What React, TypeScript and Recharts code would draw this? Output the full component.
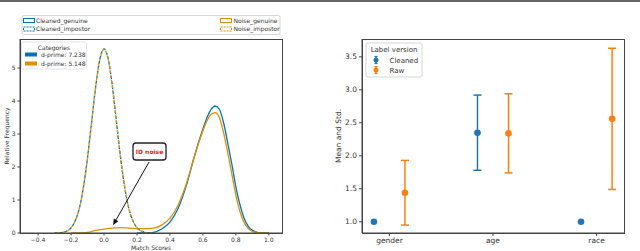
import React from 'react';
import {
  LineChart, Line, XAxis, YAxis, ReferenceLine, ReferenceDot,
  ComposedChart, Scatter, ErrorBar,
} from 'recharts';

const FONT = '"DejaVu Sans", sans-serif';
const BLUE_L = '#0173b2';
const ORANGE_L = '#de8f05';
const BLUE_R = '#1f77b4';
const ORANGE_R = '#ff7f0e';
const AXIS = '#444444';

// ---------- Left panel: score distributions ----------
const impostorScores = [-0.3, -0.275, -0.25, -0.225, -0.2, -0.175, -0.15, -0.125, -0.1, -0.075, -0.05, -0.025, 0, 0.025, 0.05, 0.075, 0.1, 0.125, 0.15, 0.175, 0.2, 0.225, 0.25, 0.275, 0.3];
const cleanedImpostor = [0, 0, 0.02, 0.06, 0.16, 0.37, 0.75, 1.39, 2.29, 3.38, 4.46, 5.27, 5.58, 5.28, 4.47, 3.39, 2.3, 1.4, 0.76, 0.37, 0.16, 0.06, 0.02, 0, 0];
const noiseImpostor = [0, 0, 0.02, 0.06, 0.16, 0.37, 0.75, 1.39, 2.29, 3.38, 4.46, 5.27, 5.57, 5.27, 4.46, 3.38, 2.29, 1.39, 0.75, 0.37, 0.16, 0.06, 0.02, 0, 0];

const cleanedGenuineScores = [0.2, 0.25, 0.3, 0.35, 0.4, 0.45, 0.5, 0.55, 0.6, 0.625, 0.65, 0.675, 0.7, 0.725, 0.75, 0.775, 0.8, 0.825, 0.85, 0.875, 0.9, 0.925, 0.95, 1.0];
const cleanedGenuine = [0, 0, 0.02, 0.12, 0.33, 0.75, 1.45, 2.35, 3.15, 3.5, 3.75, 3.85, 3.75, 3.35, 2.75, 2.1, 1.4, 0.85, 0.45, 0.2, 0.08, 0.03, 0.01, 0];

const noiseGenuineScores = [-0.2, -0.15, -0.1, -0.05, 0, 0.05, 0.1, 0.15, 0.2, 0.25, 0.3, 0.35, 0.4, 0.45, 0.5, 0.55, 0.6, 0.625, 0.65, 0.675, 0.7, 0.725, 0.75, 0.775, 0.8, 0.825, 0.85, 0.875, 0.9, 0.925, 0.95, 1.0];
const noiseGenuine = [0, 0, 0.02, 0.08, 0.12, 0.15, 0.16, 0.15, 0.13, 0.13, 0.15, 0.24, 0.45, 0.85, 1.5, 2.35, 3.1, 3.4, 3.6, 3.65, 3.5, 3.05, 2.45, 1.8, 1.15, 0.65, 0.32, 0.14, 0.05, 0.02, 0.01, 0];

const scoreTicks = [-0.4, -0.2, 0.0, 0.2, 0.4, 0.6, 0.8, 1.0];
const freqTicks = [0, 1, 2, 3, 4, 5];
const dPrimeLabels = ['d-prime: 7.238', 'd-prime: 5.148'];
const annotationText = 'ID noise';
const annotationBox = { x: 0.276, y: 2.47 };
const annotationArrow = [{ x: 0.273, y: 2.15 }, { x: 0.055, y: 0.24 }];
const scoreDomain: [number, number] = [-0.51, 1.08];
const freqDomain: [number, number] = [0, 5.88];

// ---------- Right panel: mean and std ----------
const attributes = ['gender', 'age', 'race'];
const cleanedMean = [1.0, 2.35, 1.0];
const cleanedStd = [0, 0.57, 0];
const rawMean = [1.44, 2.34, 2.56];
const rawStd = [0.49, 0.6, 1.07];
const meanTicks = [1.0, 1.5, 2.0, 2.5, 3.0, 3.5];
const catDomain: [number, number] = [-0.265, 2.265];
const meanDomain: [number, number] = [0.83, 3.77];
const DODGE = 0.15;

const toPts = (xs: number[], ys: number[]) => xs.map((x, i) => ({ x, y: ys[i] }));
const cleanedRows = attributes.map((a, i) => ({ x: i - DODGE, y: cleanedMean[i], std: cleanedStd[i] }));
const rawRows = attributes.map((a, i) => ({ x: i + DODGE, y: rawMean[i], std: rawStd[i] }));

const fmtScore = (v: number) => (v < 0 ? '\u2212' + Math.abs(v).toFixed(1) : v.toFixed(1));

const ArrowShape = (p: any) => {
  const { x1, y1, x2, y2 } = p;
  if ([x1, y1, x2, y2].some((v) => v == null || isNaN(v))) return null;
  const ang = Math.atan2(y2 - y1, x2 - x1);
  const L = 6, W = 2.6;
  const bx = x2 - L * Math.cos(ang), by = y2 - L * Math.sin(ang);
  const px = -Math.sin(ang) * W, py = Math.cos(ang) * W;
  return (
    <g>
      <line x1={x1} y1={y1} x2={bx} y2={by} stroke="#111" strokeWidth={1} />
      <polygon points={`${x2},${y2} ${bx + px},${by + py} ${bx - px},${by - py}`} fill="#111" />
    </g>
  );
};

const BoxShape = (p: any) => {
  const { cx, cy } = p;
  if (cx == null || cy == null) return null;
  return (
    <g>
      <rect x={cx - 16.5} y={cy - 8.5} width={33} height={17} rx={3} fill="#fff" stroke="#222" strokeWidth={1.3} />
      <text x={cx} y={cy + 2} textAnchor="middle" fontSize={6} fontWeight="bold" fill="#e8251f" fontFamily={FONT}>{annotationText}</text>
    </g>
  );
};

const LeftChart = () => (
  <LineChart width={290} height={251} margin={{ top: 39, right: 8, bottom: 0, left: 6 }}>
    <XAxis dataKey="x" type="number" domain={scoreDomain} allowDataOverflow ticks={scoreTicks}
      tickFormatter={fmtScore} height={18} tickSize={2.5} stroke={AXIS}
      tick={{ fontSize: 6, fill: '#333', fontFamily: FONT }} />
    <YAxis type="number" domain={freqDomain} allowDataOverflow ticks={freqTicks} width={14} tickSize={2.5}
      stroke={AXIS} tick={{ fontSize: 6, fill: '#333', fontFamily: FONT }} />
    <Line data={toPts(cleanedGenuineScores, cleanedGenuine)} dataKey="y" type="monotone" stroke={BLUE_L} strokeWidth={1.3} dot={false} isAnimationActive={false} />
    <Line data={toPts(noiseGenuineScores, noiseGenuine)} dataKey="y" type="monotone" stroke={ORANGE_L} strokeWidth={1.3} dot={false} isAnimationActive={false} />
    <Line data={toPts(impostorScores, cleanedImpostor)} dataKey="y" type="monotone" stroke={BLUE_L} strokeWidth={1.3} strokeDasharray="3 2" dot={false} isAnimationActive={false} />
    <Line data={toPts(impostorScores, noiseImpostor)} dataKey="y" type="monotone" stroke={ORANGE_L} strokeWidth={1.3} strokeDasharray="3 2" strokeDashoffset={2} dot={false} isAnimationActive={false} />
    <ReferenceLine segment={annotationArrow} shape={ArrowShape} ifOverflow="visible" />
    <ReferenceDot x={annotationBox.x} y={annotationBox.y} r={0} shape={BoxShape} ifOverflow="visible" />
  </LineChart>
);

const DotShape = (color: string) => (p: any) => (
  p.cx == null ? null : <circle cx={p.cx} cy={p.cy} r={3.3} fill={color} />
);

const RightChart = () => (
  <ComposedChart width={350} height={251} margin={{ top: 39, right: 16, bottom: 0, left: 42 }}>
    <XAxis dataKey="x" type="number" domain={catDomain} allowDataOverflow ticks={[0, 1, 2]}
      tickFormatter={(v: number) => attributes[Math.round(v)] ?? ''} height={18} tickSize={3} stroke={AXIS}
      tick={{ fontSize: 7.5, fill: '#333', fontFamily: FONT }} interval={0} />
    <YAxis type="number" domain={meanDomain} allowDataOverflow ticks={meanTicks} width={30} tickSize={3}
      tickFormatter={(v: number) => v.toFixed(1)} stroke={AXIS}
      tick={{ fontSize: 7.5, fill: '#333', fontFamily: FONT }} />
    <Scatter data={cleanedRows} dataKey="y" fill={BLUE_R} shape={DotShape(BLUE_R)} isAnimationActive={false}>
      <ErrorBar dataKey="std" direction="y" width={4} stroke={BLUE_R} strokeWidth={1.5} isAnimationActive={false} />
    </Scatter>
    <Scatter data={rawRows} dataKey="y" fill={ORANGE_R} shape={DotShape(ORANGE_R)} isAnimationActive={false}>
      <ErrorBar dataKey="std" direction="y" width={4} stroke={ORANGE_R} strokeWidth={1.5} isAnimationActive={false} />
    </Scatter>
  </ComposedChart>
);

const frameStyle = (left: number): React.CSSProperties => ({
  position: 'absolute', left, top: 39, width: 263, height: 195,
  boxSizing: 'border-box', border: '1px solid #444', pointerEvents: 'none',
});

const Overlay = () => (
  <svg width={640} height={251} style={{ position: 'absolute', left: 0, top: 0, pointerEvents: 'none' }}>
    <rect x={0} y={0} width={640} height={2} fill="#666" />
    {/* top legend */}
    <rect x={22} y={15.5} width={258} height={19} rx={1.5} fill="#fff" stroke="#ccc" strokeWidth={0.8} />
    <rect x={23.5} y={18.5} width={11} height={4} fill="none" stroke={BLUE_L} strokeWidth={1} />
    <text x={36} y={22.5} fontSize={6} fill="#333" fontFamily={FONT}>Cleaned_genuine</text>
    <rect x={23.5} y={27} width={11} height={4} fill="none" stroke={BLUE_L} strokeWidth={1} strokeDasharray="2 1" />
    <text x={36} y={31} fontSize={6} fill="#333" fontFamily={FONT}>Cleaned_impostor</text>
    <rect x={220.5} y={18.5} width={11} height={4} fill="none" stroke={ORANGE_L} strokeWidth={1} />
    <text x={233.5} y={22.5} fontSize={6} fill="#333" fontFamily={FONT}>Noise_genuine</text>
    <rect x={220.5} y={27} width={11} height={4} fill="none" stroke={ORANGE_L} strokeWidth={1} strokeDasharray="2 1" />
    <text x={233.5} y={31} fontSize={6} fill="#333" fontFamily={FONT}>Noise_impostor</text>
    {/* categories legend */}
    <rect x={21.5} y={42} width={65} height={27} rx={1.5} fill="#fff" fillOpacity={0.85} stroke="#ddd" strokeWidth={0.8} />
    <text x={54} y={49.5} fontSize={6} fill="#333" textAnchor="middle" fontFamily={FONT}>Categories</text>
    <rect x={25} y={52.5} width={12} height={4} fill={BLUE_L} />
    <text x={41} y={56.5} fontSize={6} fill="#333" fontFamily={FONT}>{dPrimeLabels[0]}</text>
    <rect x={25} y={61.5} width={12} height={4} fill={ORANGE_L} />
    <text x={41} y={65.5} fontSize={6} fill="#333" fontFamily={FONT}>{dPrimeLabels[1]}</text>
    {/* left axis titles */}
    <text x={0} y={0} fontSize={6} fill="#333" textAnchor="middle" fontFamily={FONT} transform="translate(9,136) rotate(-90)">Relative Frequency</text>
    <text x={151} y={249.5} fontSize={6} fill="#333" textAnchor="middle" fontFamily={FONT}>Match Scores</text>
    {/* right axis title */}
    <text x={0} y={0} fontSize={7.5} fill="#333" textAnchor="middle" fontFamily={FONT} transform="translate(341,136) rotate(-90)">Mean and Std.</text>
    {/* right legend */}
    <rect x={366} y={43} width={56} height={34} rx={2} fill="#fff" stroke="#ccc" strokeWidth={0.8} />
    <text x={394} y={51.5} fontSize={7} fill="#333" textAnchor="middle" fontFamily={FONT}>Label version</text>
    <line x1={376} y1={56.5} x2={376} y2={63.5} stroke={BLUE_R} strokeWidth={1.5} />
    <line x1={374.5} y1={56.5} x2={377.5} y2={56.5} stroke={BLUE_R} strokeWidth={1.2} />
    <line x1={374.5} y1={63.5} x2={377.5} y2={63.5} stroke={BLUE_R} strokeWidth={1.2} />
    <circle cx={376} cy={60} r={2.5} fill={BLUE_R} />
    <text x={389.5} y={62.5} fontSize={7} fill="#333" fontFamily={FONT}>Cleaned</text>
    <line x1={376} y1={66.5} x2={376} y2={73.5} stroke={ORANGE_R} strokeWidth={1.5} />
    <line x1={374.5} y1={66.5} x2={377.5} y2={66.5} stroke={ORANGE_R} strokeWidth={1.2} />
    <line x1={374.5} y1={73.5} x2={377.5} y2={73.5} stroke={ORANGE_R} strokeWidth={1.2} />
    <circle cx={376} cy={70} r={2.5} fill={ORANGE_R} />
    <text x={389.5} y={72.5} fontSize={7} fill="#333" fontFamily={FONT}>Raw</text>
  </svg>
);

export default function App() {
  return (
    <div style={{ position: 'absolute', left: 0, top: 0, width: 640, height: 251, background: '#fff', overflow: 'hidden' }}>
      <div style={{ position: 'absolute', left: 0, top: 0 }}><LeftChart /></div>
      <div style={{ position: 'absolute', left: 290, top: 0 }}><RightChart /></div>
      <div style={frameStyle(19.5)} />
      <div style={frameStyle(361.5)} />
      <Overlay />
    </div>
  );
}
